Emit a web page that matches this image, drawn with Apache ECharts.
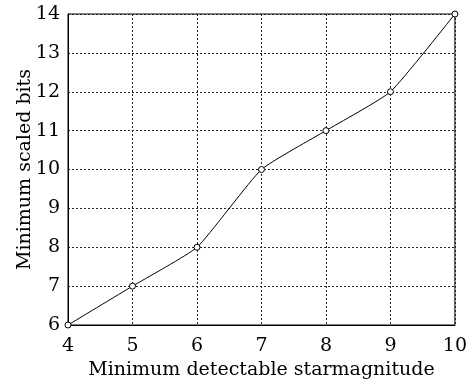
<!DOCTYPE html>
<html>
<head>
<meta charset="utf-8">
<script src="https://cdn.jsdelivr.net/npm/echarts@6/dist/echarts.min.js"></script>
<style>
  html, body { margin: 0; padding: 0; background: #fff; }
  #chart { width: 470px; height: 385px; }
</style>
</head>
<body>
<div id="chart"></div>
<script>
// values
const magnitudes = [4, 5, 6, 7, 8, 9, 10];
const scaledBits = [6, 7, 8, 10, 11, 12, 14];

const font = "DejaVu Serif";

let chart = echarts.init(document.getElementById("chart"));
chart.setOption({
  animation: false,
  backgroundColor: "#fff",
  grid: {
    left: 68,
    right: 15,
    top: 14,
    bottom: 60,
    show: true,
    borderColor: "#000",
    borderWidth: 1,
  },
  xAxis: {
    type: "value",
    min: 4,
    max: 10,
    interval: 1,
    name: "Minimum detectable starmagnitude",
    nameLocation: "middle",
    nameGap: 36,
    nameTextStyle: { color: "#000", fontSize: 19, fontFamily: font },
    axisLine: { lineStyle: { color: "#000" } },
    axisTick: { show: false },
    axisLabel: { color: "#000", fontSize: 19, fontFamily: font, margin: 12 },
    splitLine: { lineStyle: { color: "#222", type: [2, 2], width: 1 } },
  },
  yAxis: {
    type: "value",
    min: 6,
    max: 14,
    interval: 1,
    name: "Minimum scaled bits",
    nameLocation: "middle",
    nameGap: 33,
    nameMoveOverlap: false,
    nameTextStyle: { color: "#000", fontSize: 19, fontFamily: font },
    axisLine: { show: true, lineStyle: { color: "#000" } },
    axisTick: { show: false },
    axisLabel: { color: "#000", fontSize: 19, fontFamily: font, margin: 8 },
    splitLine: { lineStyle: { color: "#222", type: [2, 2], width: 1 } },
  },
  series: [
    {
      type: "line",
      data: magnitudes.map((m, i) => [m, scaledBits[i]]),
      smooth: 0.15,
      symbol: "circle",
      symbolSize: 6,
      lineStyle: { color: "#000", width: 1 },
      itemStyle: { color: "#fff", borderColor: "#000", borderWidth: 1 },
    },
  ],
});
</script>
</body>
</html>
